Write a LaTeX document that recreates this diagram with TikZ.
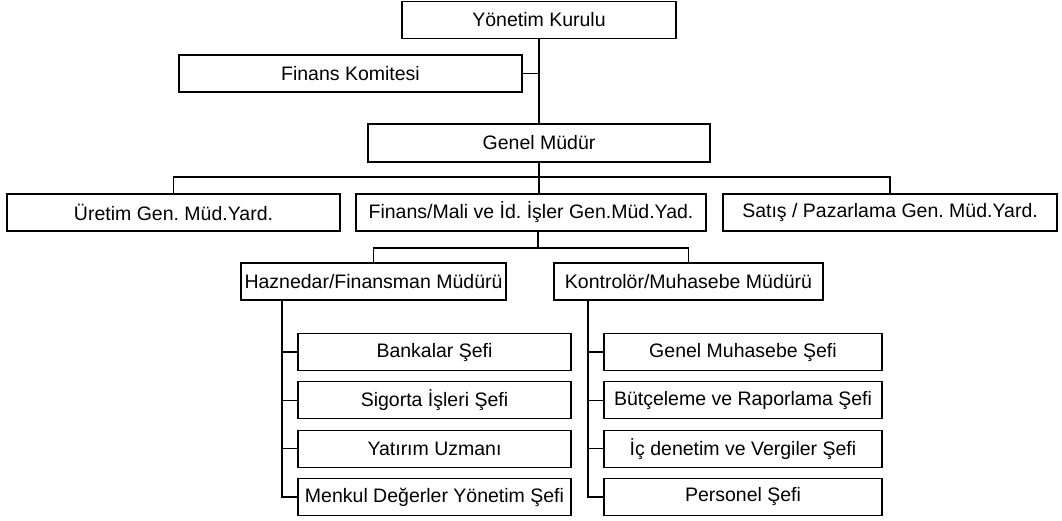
\documentclass[tikz,border=0pt]{standalone}
\usepackage{fontspec}
\setmainfont{Liberation Sans}
\usetikzlibrary{positioning}
\frenchspacing
\tikzstyle{block} = [rectangle, draw, inner sep=0pt, minimum height=37pt, font=\fontsize{19.5}{23}\selectfont]
\tikzstyle{chief} = [block, node distance=48.3pt]
\tikzstyle{line} = [draw]

\begin{document}
\begin{tikzpicture}[x=1pt, y=-1pt, line width=1.2pt]
    \useasboundingbox (0,0) rectangle (1062,520);
    % Place nodes
    \node [block, minimum width=274pt] (board) at (539,20) {Yönetim Kurulu};
    \node [block, minimum width=343pt] (fincom) at (350.5,73.5) {Finans Komitesi};
    \node [block, minimum width=342pt, minimum height=38pt] (gm) at (539,143) {Genel Müdür};
    \node [block, minimum width=333pt] (prodvp) at (173.5,212.5) {Üretim Gen. Müd.Yard.};
    \node [block, minimum width=350pt] (finvp) at (531,212.5) {Finans/Mali ve İd. İşler Gen.Müd.Yad.};
    \node [block, minimum width=334pt] (salesvp) at (890,212.5) {Satış / Pazarlama Gen. Müd.Yard.};
    \node [block, minimum width=265pt] (treas) at (373.5,281.5) {Haznedar/Finansman Müdürü};
    \node [block, minimum width=269pt] (ctrl) at (688.5,281.5) {Kontrolör/Muhasebe Müdürü};
    % chiefs under the treasurer
    \node [chief, minimum width=273pt] (bank) at (434.5,352) {Bankalar Şefi};
    \node [chief, minimum width=273pt, below of=bank] (insur) {Sigorta İşleri Şefi};
    \node [chief, minimum width=273pt, below of=insur] (invest) {Yatırım Uzmanı};
    \node [chief, minimum width=273pt, below of=invest] (secur) {Menkul Değerler Yönetim Şefi};
    % chiefs under the controller
    \node [chief, minimum width=278pt] (genacc) at (743,352) {Genel Muhasebe Şefi};
    \node [chief, minimum width=278pt, below of=genacc] (budget) {Bütçeleme ve Raporlama Şefi};
    \node [chief, minimum width=278pt, below of=budget] (audit) {İç denetim ve Vergiler Şefi};
    \node [chief, minimum width=278pt, below of=audit] (staff) {Personel Şefi};
    \coordinate (bus1) at (539,177);
    \coordinate (bus2) at (538,248);
    \coordinate (ltrunk) at (282,0);
    \coordinate (rtrunk) at (588,0);
    % Draw edges
    \path [line] (board) -- (gm);
    \path [line] (fincom.east) -- (fincom.east -| board.south);
    \path [line] (gm.south) -- (gm.south |- finvp.north);
    \path [line] (prodvp.north) |- (bus1) -| (salesvp.north);
    \path [line] (bus2 |- finvp.south) -- (bus2);
    \path [line] (treas.north) |- (bus2) -| (ctrl.north);
    \path [line] (ltrunk |- treas.south) |- (secur.west);
    \path [line] (rtrunk |- ctrl.south) |- (staff.west);
    \foreach \n in {bank,insur,invest}
        \path [line] (\n.west) -- (\n.west -| ltrunk);
    \foreach \n in {genacc,budget,audit}
        \path [line] (\n.west) -- (\n.west -| rtrunk);

\end{tikzpicture}
\end{document}
